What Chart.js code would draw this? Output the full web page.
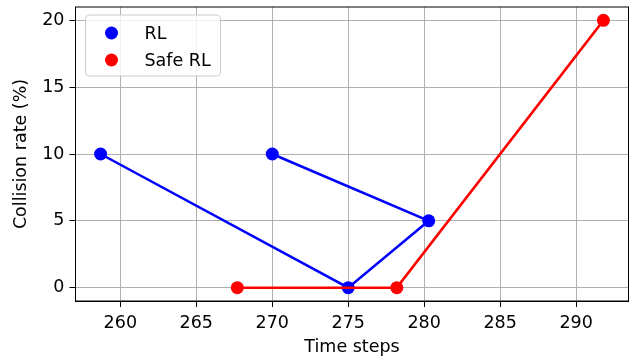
<!DOCTYPE html>
<html>
<head>
<meta charset="utf-8">
<script src="https://cdn.jsdelivr.net/npm/chart.js@4"></script>
<style>
html,body{margin:0;padding:0;background:#fff;}
#wrap{width:643px;height:358px;position:relative;}
</style>
</head>
<body>
<div id="wrap"><canvas id="c" width="643" height="358"></canvas></div>
<script>
// values
var rlX=[258.7, 275, 280.3, 270];
var rlY=[10, 0, 5, 10];
var safeX=[267.7, 278.2, 291.8];
var safeY=[0, 0, 20];
var xTicks=[260, 265, 270, 275, 280, 285, 290];
var yTicks=[0, 5, 10, 15, 20];

var FONT='"DejaVu Sans", sans-serif';
var FS=17.5;

function pts(xs, ys){
  var out=[];
  for(var i=0;i<xs.length;i++){out.push({x:xs[i], y:ys[i]});}
  return out;
}

// matplotlib style in-axes legend + frame
var mplBits={
  id:'mplBits',
  afterDraw:function(chart){
    var ctx=chart.ctx, a=chart.chartArea;
    ctx.save();
    // frame
    ctx.strokeStyle='#000';
    ctx.lineWidth=1;
    ctx.strokeRect(a.left, a.top, a.right-a.left, a.bottom-a.top);
    // legend box
    var bx=a.left+10, by=a.top+8, bw=135, bh=61, r=4;
    ctx.beginPath();
    ctx.moveTo(bx+r,by);
    ctx.arcTo(bx+bw,by,bx+bw,by+bh,r);
    ctx.arcTo(bx+bw,by+bh,bx,by+bh,r);
    ctx.arcTo(bx,by+bh,bx,by,r);
    ctx.arcTo(bx,by,bx+bw,by,r);
    ctx.closePath();
    ctx.fillStyle='rgba(255,255,255,0.8)';
    ctx.fill();
    ctx.strokeStyle='#cccccc';
    ctx.stroke();
    var items=[["RL","#0000ff"],["Safe RL","#ff0000"]];
    ctx.font=FS+'px '+FONT;
    ctx.textBaseline='middle';
    for(var i=0;i<items.length;i++){
      var yy=by+18+i*27;
      ctx.beginPath();
      ctx.arc(bx+26, yy, 6.5, 0, Math.PI*2);
      ctx.fillStyle=items[i][1];
      ctx.fill();
      ctx.fillStyle='#000';
      ctx.fillText(items[i][0], bx+59, yy+1);
    }
    ctx.restore();
  }
};

var chart=new Chart(document.getElementById('c'), {
  type:'scatter',
  data:{
    datasets:[{
      label:'RL',
      data:pts(rlX, rlY),
      showLine:true,
      borderColor:'#0000ff',
      backgroundColor:'#0000ff',
      borderWidth:2.5,
      pointRadius:6.5,
      pointHoverRadius:6.5,
      pointBorderWidth:0,
      order:2
    },{
      label:'Safe RL',
      data:pts(safeX, safeY),
      showLine:true,
      borderColor:'#ff0000',
      backgroundColor:'#ff0000',
      borderWidth:2.5,
      pointRadius:6.5,
      pointHoverRadius:6.5,
      pointBorderWidth:0,
      order:1
    }]
  },
  options:{
    responsive:false,
    animation:false,
    devicePixelRatio:1,
    layout:{padding:{left:0, top:0, right:14.5, bottom:0}},
    plugins:{legend:{display:false}, tooltip:{enabled:false}},
    scales:{
      x:{
        type:'linear',
        min:257.05,
        max:293.45,
        afterFit:function(s){s.height=57;s.paddingRight=0;s.paddingLeft=0;},
        afterBuildTicks:function(s){s.ticks=xTicks.map(function(v){return {value:v};});},
        grid:{color:'#b0b0b0', lineWidth:1, tickLength:6, tickColor:'#000'},
        border:{color:'#000', width:1},
        ticks:{color:'#000', font:{family:FONT, size:FS}, padding:6, maxRotation:0, autoSkip:false},
        title:{display:true, text:'Time steps', color:'#000', font:{family:FONT, size:FS}, padding:{top:0, bottom:0}}
      },
      y:{
        type:'linear',
        min:-1,
        max:21,
        afterFit:function(s){s.width=75.5;s.paddingTop=7;s.paddingBottom=0;},
        afterBuildTicks:function(s){s.ticks=yTicks.map(function(v){return {value:v};});},
        grid:{color:'#b0b0b0', lineWidth:1, tickLength:6, tickColor:'#000'},
        border:{color:'#000', width:1},
        ticks:{color:'#000', font:{family:FONT, size:FS}, padding:5, autoSkip:false},
        title:{display:true, text:'Collision rate (%)', color:'#000', font:{family:FONT, size:FS}, padding:{top:11, bottom:0}}
      }
    }
  },
  plugins:[mplBits]
});
</script>
</body>
</html>
